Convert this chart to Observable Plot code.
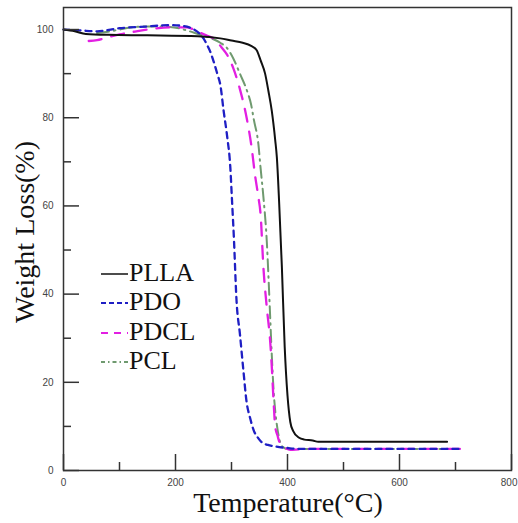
<!DOCTYPE html>
<html>
<head>
<meta charset="utf-8">
<script src="https://cdn.jsdelivr.net/npm/d3@7"></script>
<script src="https://cdn.jsdelivr.net/npm/@observablehq/plot@0.6"></script>
<style>
  html, body { margin: 0; padding: 0; background: #fff; }
  #wrap { position: relative; width: 518px; height: 523px; }
  .lbl { position: absolute; font-family: "Liberation Serif", "Times New Roman", serif; color: #111; white-space: nowrap; }
  #legend { position: absolute; left: 100px; top: 258px; font-family: "Liberation Serif", serif; font-size: 26px; color: #111; }
  #legend .row { display: flex; align-items: center; height: 29.5px; }
</style>
</head>
<body>
<div id="wrap">
  <div id="chart"></div>
  <div class="lbl" id="ylab" style="font-size:28px; left:25px; top:232px; transform: translate(-50%,-50%) rotate(-90deg);">Weight Loss(%)</div>
  <div class="lbl" id="xlab" style="font-size:28px; left:288px; top:503px; transform: translate(-50%,-50%);">Temperature(°C)</div>
  <div id="legend"></div>
</div>
<script>
// ---- data ----
const seriesNames = ["PLLA", "PDO", "PDCL", "PCL"];

const pllaT = [0, 20, 40, 80, 150, 240, 280, 300, 320, 335, 345, 352, 360, 366, 372, 378, 381, 385, 390, 395, 400, 405, 410, 420, 430, 445, 455, 500, 600, 685];
const pllaW = [100, 99.6, 99.0, 98.8, 98.7, 98.5, 98.0, 97.5, 97.0, 96.3, 95.3, 93, 90, 86, 81.5, 75, 71, 61, 46, 28, 17, 11, 9, 7.5, 7.0, 6.8, 6.5, 6.5, 6.5, 6.5];

const pdoT = [0, 30, 60, 100, 150, 190, 215, 230, 242, 250, 256, 262, 268, 275, 280, 286, 292, 298, 301, 304, 309, 315, 321, 327, 333, 340, 348, 355, 365, 380, 400, 420, 450, 500, 600, 713];
const pdoW = [100, 99.8, 99.6, 100.3, 100.7, 101, 100.8, 100.2, 99.2, 98, 96.6, 95, 92.8, 89.8, 87.5, 81.5, 76, 68.5, 61, 53.5, 38.5, 31, 23, 15.5, 12, 9, 7.3, 6.3, 5.8, 5.4, 5.1, 4.9, 4.9, 4.9, 4.9, 4.9];

const pdclT = [45, 60, 80, 100, 130, 160, 190, 220, 240, 255, 270, 282, 292, 303, 315, 327, 336, 342, 348, 352, 357, 363, 369, 372, 375, 378, 382, 387, 395, 405, 420, 450, 500, 600, 713];
const pdclW = [97.4, 97.6, 98.3, 98.9, 99.6, 100.2, 100.5, 100.5, 99.5, 98.7, 97.8, 96, 94.3, 91.3, 86.5, 80, 73.2, 67, 62, 58, 46, 37, 29.4, 23.4, 16, 10, 8, 6, 5.2, 4.7, 4.8, 4.9, 4.9, 4.9, 4.9];

const pclT = [60, 80, 100, 130, 155, 190, 220, 240, 260, 280, 292, 303, 315, 328, 335, 340, 348, 352, 357, 363, 366, 369, 372, 375, 378, 382, 386, 392, 400, 450, 500, 600, 713];
const pclW = [99.2, 99.5, 100, 100.6, 100.7, 100.6, 99.8, 99.0, 98.2, 97, 95.8, 93.5, 90, 86, 83, 79.5, 74, 68.5, 62, 52, 44, 35, 26, 18.5, 13.6, 9.5, 6.8, 5.3, 4.9, 4.9, 4.9, 4.9, 4.9];

const majorX = [0, 200, 400, 600, 800];
const minorX = [100, 300, 500, 700];
const majorY = [0, 20, 40, 60, 80, 100];
const minorY = [10, 30, 50, 70, 90];

// ---- styles ----
const styles = {
  PLLA: {stroke: "#111111", strokeWidth: 2, dash: null},
  PDO:  {stroke: "#1f1fc4", strokeWidth: 2.3, dash: "6,5"},
  PDCL: {stroke: "#e21fe2", strokeWidth: 2.3, dash: "13,10"},
  PCL:  {stroke: "#6f9a6f", strokeWidth: 2, dash: "12,5,1.5,5"}
};

const toRows = (T, Wv) => T.map((t, i) => ({t, w: Wv[i]}));
const data = {
  PLLA: toRows(pllaT, pllaW),
  PDO: toRows(pdoT, pdoW),
  PDCL: toRows(pdclT, pdclW),
  PCL: toRows(pclT, pclW)
};

const W = 518, H = 523, mL = 63, mR = 7, mT = 7, mB = 53;
const pw = W - mL - mR, ph = H - mT - mB;

const lineMarks = ["PCL", "PDCL", "PDO", "PLLA"].map(name => Plot.line(data[name], {
  x: "t", y: "w", curve: "monotone-x",
  stroke: styles[name].stroke, strokeWidth: styles[name].strokeWidth,
  strokeDasharray: styles[name].dash
}));

const lastX = majorX[majorX.length - 1];
const chart = Plot.plot({
  width: W, height: H,
  marginLeft: mL, marginRight: mR, marginTop: mT, marginBottom: mB,
  x: {domain: [0, 800]},
  y: {domain: [0, 105]},
  style: {fontFamily: "Liberation Sans, Arial, sans-serif", background: "white"},
  marks: [
    ...lineMarks,
    Plot.tickY(majorY, {y: d => d, insetRight: pw - 16, stroke: "#333", strokeWidth: 1.5}),
    Plot.tickY(minorY, {y: d => d, insetRight: pw - 8, stroke: "#333", strokeWidth: 1.5}),
    Plot.tickX(majorX, {x: d => d, insetTop: ph - 16, stroke: "#333", strokeWidth: 1.5}),
    Plot.tickX(minorX, {x: d => d, insetTop: ph - 8, stroke: "#333", strokeWidth: 1.5}),
    Plot.axisY(majorY, {tickSize: 0, tickPadding: 10, fontSize: 10, fill: "#444", label: null}),
    Plot.axisX(majorX.filter(d => d !== lastX), {tickSize: 0, tickPadding: 8, fontSize: 10, fill: "#444", label: null}),
    Plot.axisX([lastX], {tickSize: 0, tickPadding: 8, fontSize: 10, fill: "#444", label: null, textAnchor: "end", dx: 6}),
    Plot.frame({stroke: "#333", strokeWidth: 1.5})
  ]
});
document.getElementById("chart").appendChild(chart);

// ---- legend ----
const legend = document.getElementById("legend");
for (const name of seriesNames) {
  const s = styles[name];
  const row = document.createElement("div");
  row.className = "row";
  const ns = "http://www.w3.org/2000/svg";
  const svg = document.createElementNS(ns, "svg");
  svg.setAttribute("width", 29);
  svg.setAttribute("height", 10);
  const ln = document.createElementNS(ns, "line");
  ln.setAttribute("x1", 1); ln.setAttribute("x2", 28);
  ln.setAttribute("y1", 6); ln.setAttribute("y2", 6);
  ln.setAttribute("stroke", s.stroke);
  ln.setAttribute("stroke-width", name === "PLLA" ? 1.5 : 2);
  const legDash = {PLLA: null, PDO: "5,3", PDCL: "7,6", PCL: "4,3,1.5,3"}[name];
  if (legDash) ln.setAttribute("stroke-dasharray", legDash);
  svg.appendChild(ln);
  row.appendChild(svg);
  const sp = document.createElement("span");
  sp.textContent = name;
  row.appendChild(sp);
  legend.appendChild(row);
}
</script>
</body>
</html>
